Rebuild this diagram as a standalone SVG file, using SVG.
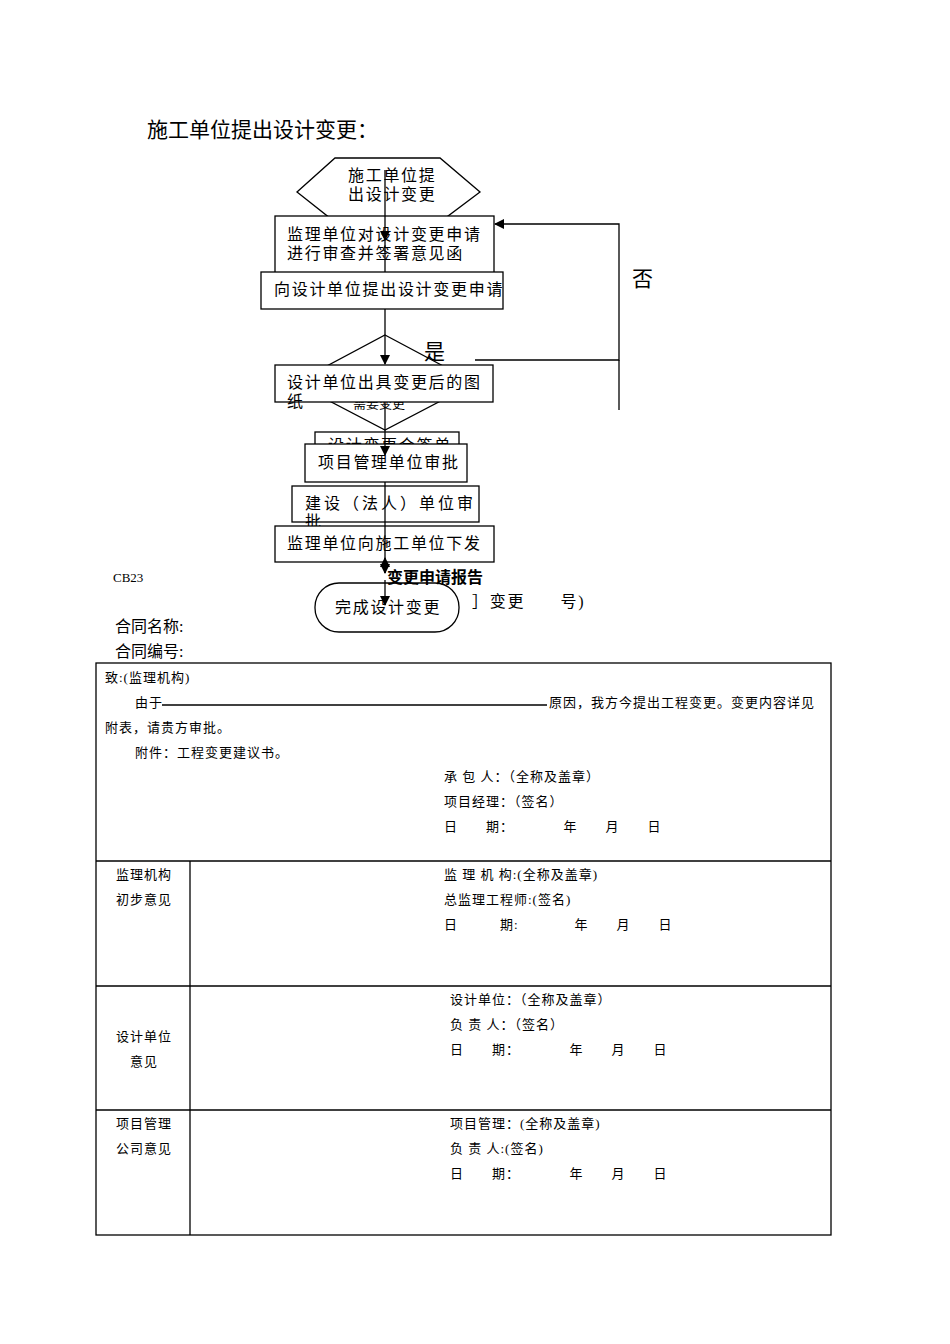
<svg xmlns="http://www.w3.org/2000/svg" width="950" height="1344" viewBox="0 0 950 1344">
<style>
text{font-family:"Liberation Serif","Noto Sans CJK SC",serif;fill:#000}
.f{font-family:"Noto Sans CJK SC",sans-serif}
.b{fill:#fff;stroke:#000;stroke-width:1.3}
.l{stroke:#000;stroke-width:1.3;fill:none}
.s{font-size:16px;letter-spacing:1.7px}.t{font-size:13px;letter-spacing:1px}
</style>
<defs><marker id="a" markerWidth="10" markerHeight="10" refX="9" refY="5" orient="auto" markerUnits="userSpaceOnUse"><path d="M0,0L10,5L0,10Z"/></marker></defs>
<rect width="950" height="1344" fill="#fff"/>
<text x="147" y="137" style="font-size:21px">施工单位提出设计变更：</text>
<g id="n1"><polygon class="b" points="335,158 440,158 480,192 440,222 335,222 297,192"/><text x="348" y="181" class="s">施工单位提</text><text x="348" y="200" class="s">出设计变更</text></g>
<g id="n2"><rect class="b" x="275" y="216" width="219" height="57"/><text x="287" y="240" class="s">监理单位对设计变更申请</text><text x="287" y="259" class="s">进行审查并签署意见函</text></g>
<g id="n3"><rect class="b" x="261" y="272" width="242" height="37"/><text x="274" y="295" class="s">向设计单位提出设计变更申请</text></g>
<g id="n4"><polygon class="b" points="385,335 475,383 385,430 295,383"/><text x="353" y="408" style="font-size:13px">需要变更</text></g>
<g id="n5"><rect class="b" x="275" y="365" width="218" height="37"/><text x="287" y="388" class="s">设计单位出具变更后的图</text><text x="287" y="407" class="s">纸</text></g>
<g id="n6"><rect class="b" x="315" y="432" width="144" height="20"/><text x="328" y="451" class="s">设计变更会签单</text></g>
<g id="n7"><rect class="b" x="305" y="444" width="162" height="38"/><text x="318" y="468" class="s">项目管理单位审批</text></g>
<g id="n8"><rect class="b" x="292" y="486" width="187" height="36"/><text x="305" y="509" class="s" style="letter-spacing:3px">建设（法人）单位审</text><text x="305" y="527" class="s">批</text></g>
<g id="n9"><rect class="b" x="275" y="526" width="219" height="36"/><text x="287" y="549" class="s">监理单位向施工单位下发</text></g>
<g id="n10"><rect class="b" x="315" y="583" width="144" height="49" rx="24"/><text x="335" y="613" class="s">完成设计变更</text></g>
<g id="edges">
<line class="l" x1="385" y1="170" x2="385" y2="240" marker-end="url(#a)"/>
<line class="l" x1="385" y1="240" x2="385" y2="272"/>
<line class="l" x1="385" y1="309" x2="385" y2="364" marker-end="url(#a)"/>
<line class="l" x1="385" y1="402" x2="385" y2="455" marker-end="url(#a)"/>
<line class="l" x1="385" y1="482" x2="385" y2="573" marker-end="url(#a)"/>
<line class="l" x1="385" y1="573" x2="385" y2="558" marker-end="url(#a)"/>
<line class="l" x1="385" y1="580" x2="385" y2="605" marker-end="url(#a)"/>
<polyline class="l" points="475,360 619,360 619,224 495,224" marker-end="url(#a)"/>
<line class="l" x1="619" y1="360" x2="619" y2="410"/>
<text x="424" y="359" style="font-size:21px">是</text>
<text x="632" y="286" style="font-size:21px">否</text>
</g>
<text x="113" y="582" class="t" style="letter-spacing:0">CB23</text>
<text x="387" y="583" class="f" style="font-size:16px;font-weight:bold">变更申请报告</text>
<text x="472" y="607" class="s">］变更　　号)</text>
<text x="115" y="632" class="s" style="letter-spacing:0">合同名称:</text>
<text x="115" y="657" class="s" style="letter-spacing:0">合同编号:</text>
<g id="table" class="l">
<rect x="96" y="663" width="735" height="572"/>
<line x1="96" y1="861" x2="831" y2="861"/><line x1="96" y1="986" x2="831" y2="986"/><line x1="96" y1="1110" x2="831" y2="1110"/>
<line x1="190" y1="861" x2="190" y2="1235"/>
<line x1="162" y1="705" x2="547" y2="705"/>
</g>
<g class="t">
<text x="105" y="682">致:(监理机构)</text>
<text x="135" y="707">由于</text><text x="549" y="707">原因，我方今提出工程变更。变更内容详见</text>
<text x="105" y="732">附表，请贵方审批。</text>
<text x="135" y="757">附件：工程变更建议书。</text>
<text x="444" y="781">承 包 人：（全称及盖章）</text>
<text x="444" y="806">项目经理：（签名）</text>
<text x="444" y="831">日　　期：　　　　年　　月　　日</text>
<text x="116" y="879">监理机构</text><text x="116" y="904">初步意见</text>
<text x="444" y="879">监 理 机 构:(全称及盖章)</text>
<text x="444" y="904">总监理工程师:(签名)</text>
<text x="444" y="929">日　　　期:　　　　年　　月　　日</text>
<text x="116" y="1041">设计单位</text><text x="130" y="1066">意见</text>
<text x="450" y="1004">设计单位：（全称及盖章）</text>
<text x="450" y="1029">负 责 人：（签名）</text>
<text x="450" y="1054">日　　期：　　　　年　　月　　日</text>
<text x="116" y="1128">项目管理</text><text x="116" y="1153">公司意见</text>
<text x="450" y="1128">项目管理：(全称及盖章)</text>
<text x="450" y="1153">负 责 人:(签名)</text>
<text x="450" y="1178">日　　期：　　　　年　　月　　日</text>
</g>
</svg>
